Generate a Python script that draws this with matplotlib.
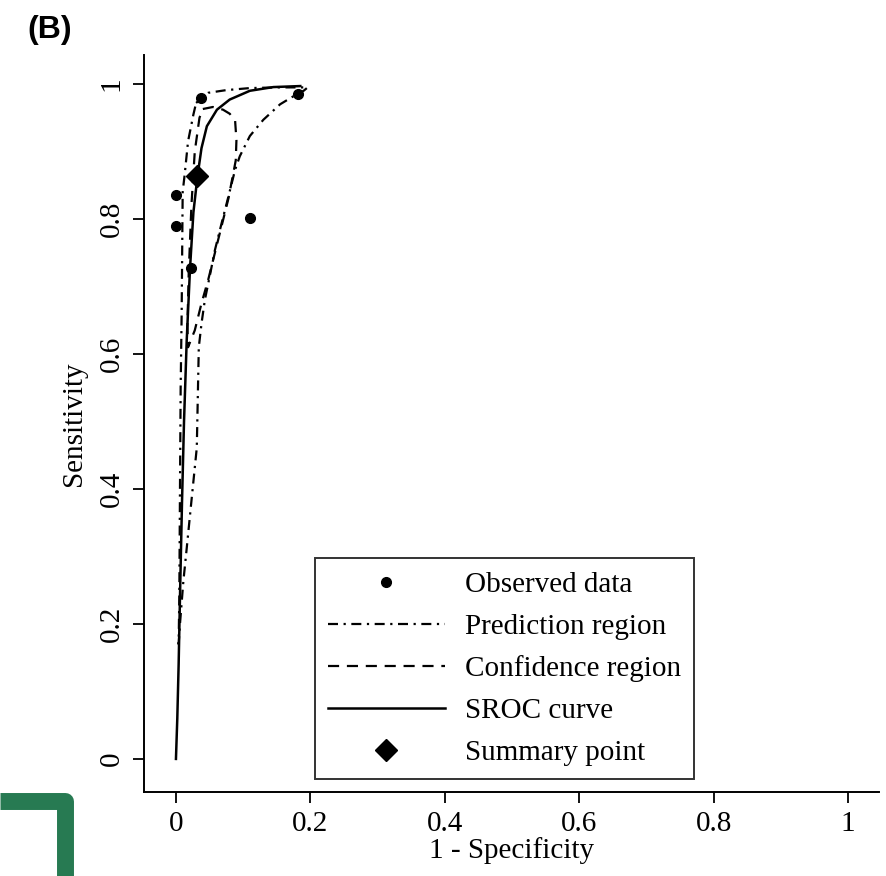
import matplotlib
matplotlib.use('Agg')
import matplotlib.pyplot as plt
from matplotlib.lines import Line2D

plt.rcParams['font.family'] = ['Liberation Serif', 'DejaVu Serif']

# observed studies (1 - specificity, sensitivity)
obs_fpr = [0.037, 0.181, 0.000, 0.000, 0.023, 0.110]
obs_sens = [0.979, 0.985, 0.836, 0.790, 0.728, 0.802]

# summary point
sum_fpr = [0.032]
sum_sens = [0.863]

# SROC curve
sroc_fpr = [0.000, 0.002, 0.004, 0.006, 0.009, 0.012, 0.016, 0.021, 0.026, 0.032,
            0.038, 0.046, 0.061, 0.080, 0.110, 0.145, 0.185]
sroc_sens = [0.00, 0.06, 0.14, 0.24, 0.38, 0.50, 0.62, 0.728, 0.81, 0.863,
             0.905, 0.9375, 0.962, 0.977, 0.990, 0.9955, 0.997]

# 95% confidence region (closed)
conf_fpr = [0.040, 0.055, 0.070, 0.080, 0.088, 0.090, 0.089, 0.085, 0.078, 0.068,
            0.058, 0.048, 0.038, 0.028, 0.018, 0.017, 0.019, 0.023, 0.028, 0.035, 0.040]
conf_sens = [0.963, 0.966, 0.962, 0.956, 0.946, 0.917, 0.887, 0.866, 0.830, 0.790,
             0.750, 0.710, 0.675, 0.635, 0.610, 0.640, 0.720, 0.820, 0.900, 0.950, 0.963]

# 95% prediction region (closed)
pred_fpr = [0.030, 0.048, 0.075, 0.110, 0.150, 0.182, 0.196, 0.190, 0.180, 0.155,
            0.130, 0.110, 0.095, 0.088, 0.078, 0.068, 0.058, 0.051, 0.043, 0.038,
            0.034, 0.031, 0.021, 0.016, 0.011, 0.006, 0.004, 0.005, 0.006, 0.007,
            0.0085, 0.010, 0.013, 0.018, 0.026, 0.030]
pred_sens = [0.972, 0.987, 0.991, 0.994, 0.995, 0.995, 0.995, 0.990, 0.985, 0.970,
             0.947, 0.923, 0.893, 0.873, 0.833, 0.794, 0.754, 0.719, 0.680, 0.645,
             0.610, 0.461, 0.362, 0.312, 0.263, 0.200, 0.170, 0.240, 0.400, 0.550,
             0.660, 0.840, 0.866, 0.915, 0.955, 0.972]

xticks = [0, 0.2, 0.4, 0.6, 0.8, 1]
xticklabels = ['0', '0.2', '0.4', '0.6', '0.8', '1']

fs = 21

fig = plt.figure(figsize=(8.87, 8.76), dpi=100)
ax = fig.add_axes([0.1623, 0.0959, 0.8286, 0.8413])

ax.plot(pred_fpr, pred_sens, color='black', lw=1.6, dashes=(4.5, 2.5, 1, 2.5),
        label='Prediction region')
ax.plot(conf_fpr, conf_sens, color='black', lw=1.6, dashes=(5, 3.5),
        label='Confidence region')
ax.plot(sroc_fpr, sroc_sens, color='black', lw=1.8, label='SROC curve')
ax.plot(obs_fpr, obs_sens, 'o', color='black', ms=7, label='Observed data')
ax.plot(sum_fpr, sum_sens, 'D', color='black', ms=11, label='Summary point')

ax.set_xlim(-0.0476, 1.046)
ax.set_ylim(-0.049, 1.043)
ax.set_xticks(xticks)
ax.set_xticklabels(xticklabels, fontsize=fs)
ax.set_yticks(xticks)
ax.set_yticklabels(xticklabels, fontsize=fs, rotation=90, va='center')
ax.tick_params(direction='out', length=8, width=1.3, pad=6)
ax.spines['top'].set_visible(False)
ax.spines['right'].set_visible(False)
ax.spines['left'].set_linewidth(1.4)
ax.spines['bottom'].set_linewidth(1.4)
ax.set_xlabel('1 - Specificity', fontsize=fs, labelpad=0)
ax.set_ylabel('Sensitivity', fontsize=fs, labelpad=8)

h, l = ax.get_legend_handles_labels()
order = [3, 0, 1, 2, 4]
leg = ax.legend([h[i] for i in order], [l[i] for i in order],
                loc='lower left', bbox_to_anchor=(0.2327, 0.0176), borderaxespad=0,
                fontsize=fs, frameon=True, fancybox=False, edgecolor='black',
                handlelength=4, handletextpad=0.7, labelspacing=0.53,
                borderpad=0.45)
leg.get_frame().set_linewidth(1.4)

fig.text(27 / 887, 1 - 30 / 876, '(B)', fontsize=23, fontweight='bold',
         family='Liberation Sans', va='center', ha='left')

# green corner mark at the bottom left
fig.add_artist(Line2D([0, 64.5 / 887, 64.5 / 887],
                      [1 - 800.5 / 876, 1 - 800.5 / 876, -0.02],
                      color='#277a52', lw=12.2, solid_joinstyle='round',
                      solid_capstyle='butt', transform=fig.transFigure))

fig.savefig('out.png', dpi=100)
